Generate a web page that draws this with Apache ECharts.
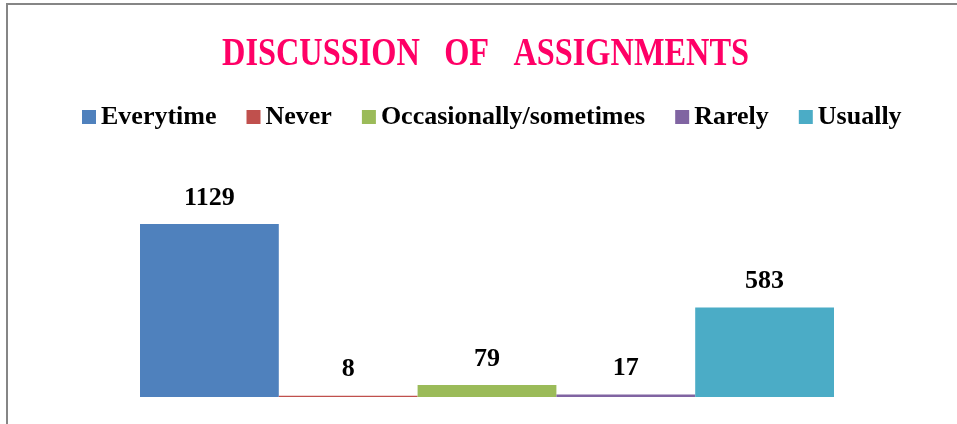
<!DOCTYPE html>
<html>
<head>
<meta charset="utf-8">
<script src="https://cdn.jsdelivr.net/npm/echarts@6/dist/echarts.min.js"></script>
<style>
  html, body { margin: 0; padding: 0; background: #fff; }
  #chart { width: 957px; height: 424px; }
</style>
</head>
<body>
<div id="chart"></div>
<script>
const categories = ['Discussion of assignments']
const seriesNames = ['Everytime', 'Never', 'Occasionally/sometimes', 'Rarely', 'Usually']
const seriesValues = [1129, 8, 79, 17, 583]
const colors = ['#4F81BD', '#C0504D', '#9BBB59', '#8064A2', '#4BACC6']

const chart = echarts.init(document.getElementById('chart'))

chart.setOption({
  animation: false,
  color: colors,
  legend: {
    data: seriesNames,
    left: 77,
    top: 98,
    icon: 'rect',
    itemWidth: 14,
    itemHeight: 14,
    itemGap: 30,
    textStyle: {
      fontFamily: 'Liberation Serif',
      fontWeight: 'bold',
      fontSize: 26,
      lineHeight: 28,
      color: '#000'
    }
  },
  grid: {
    left: 140,
    right: 123,
    top: 213,
    bottom: 27
  },
  xAxis: {
    type: 'category',
    data: categories,
    show: false
  },
  yAxis: {
    type: 'value',
    min: 0,
    max: 1200,
    show: false
  },
  graphic: [{
    type: 'rect',
    shape: { x: 7, y: 4, width: 970, height: 440 },
    style: { fill: 'none', stroke: '#868686', lineWidth: 2 },
    silent: true
  }, {
    // title, squeezed sideways to get close to the narrow display face
    type: 'text',
    x: 222,
    y: 35,
    scaleX: 0.83,
    style: {
      text: 'DISCUSSION   OF   ASSIGNMENTS',
      fontFamily: 'Liberation Serif',
      fontWeight: 'bold',
      fontSize: 39,
      fill: '#FF0066',
      textVerticalAlign: 'top'
    },
    silent: true
  }],
  series: seriesNames.map((name, i) => ({
    name,
    type: 'bar',
    barGap: '0%',
    barCategoryGap: '0%',
    data: [seriesValues[i]],
    label: {
      show: true,
      position: 'top',
      distance: 13,
      fontFamily: 'Liberation Serif',
      fontWeight: 'bold',
      fontSize: 26,
      color: '#000'
    }
  }))
})
</script>
</body>
</html>
